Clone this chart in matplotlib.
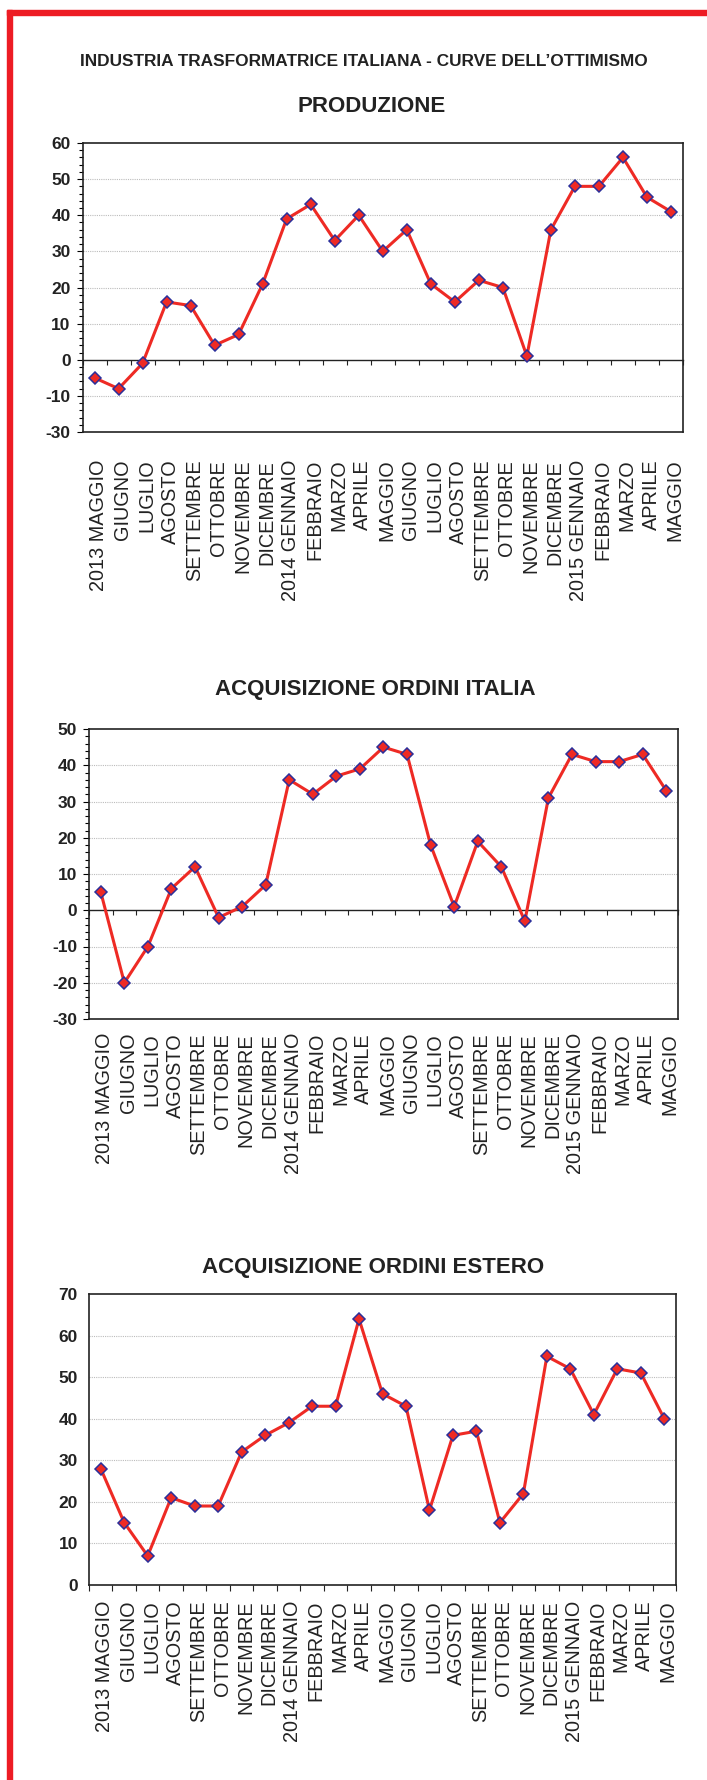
import numpy as np
import matplotlib
matplotlib.use("Agg")
import matplotlib.pyplot as plt
import matplotlib.transforms as mtransforms
from matplotlib.ticker import AutoMinorLocator, FixedLocator
from matplotlib.patches import Rectangle

plt.rcParams['font.family'] = ['Liberation Sans', 'DejaVu Sans']

# ---------------- data ----------------
mesi = ["2013 MAGGIO", "GIUGNO", "LUGLIO", "AGOSTO", "SETTEMBRE", "OTTOBRE",
        "NOVEMBRE", "DICEMBRE", "2014 GENNAIO", "FEBBRAIO", "MARZO", "APRILE",
        "MAGGIO", "GIUGNO", "LUGLIO", "AGOSTO", "SETTEMBRE", "OTTOBRE",
        "NOVEMBRE", "DICEMBRE", "2015 GENNAIO", "FEBBRAIO", "MARZO", "APRILE",
        "MAGGIO"]

produzione = [-5, -8, -1, 16, 15, 4, 7, 21, 39, 43, 33, 40, 30, 36, 21, 16,
              22, 20, 1, 36, 48, 48, 56, 45, 41]
ordini_italia = [5, -20, -10, 6, 12, -2, 1, 7, 36, 32, 37, 39, 45, 43, 18, 1,
                 19, 12, -3, 31, 43, 41, 41, 43, 33]
ordini_estero = [28, 15, 7, 21, 19, 19, 32, 36, 39, 43, 43, 64, 46, 43, 18, 36,
                 37, 15, 22, 55, 52, 41, 52, 51, 40]

titolo = "INDUSTRIA TRASFORMATRICE ITALIANA - CURVE DELL\u2019OTTIMISMO"
sottotitoli = ["PRODUZIONE", "ACQUISIZIONE ORDINI ITALIA", "ACQUISIZIONE ORDINI ESTERO"]

yticks1 = [-20, -10, 0, 10, 20, 30, 40, 50, 60]
ylabels1 = ["-30", "-10", "0", "10", "20", "30", "40", "50", "60"]
yticks2 = [-30, -20, -10, 0, 10, 20, 30, 40, 50]
ylabels2 = ["-30", "-20", "-10", "0", "10", "20", "30", "40", "50"]
yticks3 = [0, 10, 20, 30, 40, 50, 60, 70]
ylabels3 = ["0", "10", "20", "30", "40", "50", "60", "70"]

# ---------------- styles ----------------
W, H = 707, 1780
RED = "#ee2a24"
BORDER = "#ed1c24"
BLUE = "#2b2f9a"

fig = plt.figure(figsize=(W / 100, H / 100), dpi=100)
fig.patch.set_facecolor("white")

# red frame (top + left)
fig.patches.append(Rectangle((7 / W, 1 - 15 / H), 1 - 7 / W, 5 / H,
                             transform=fig.transFigure, color=BORDER, zorder=0))
fig.patches.append(Rectangle((7 / W, 0), 5 / W, 1 - 10 / H,
                             transform=fig.transFigure, color=BORDER, zorder=0))

label_shift = mtransforms.ScaledTranslation(4 / 100, 0, fig.dpi_scale_trans)


def add_ax(l, r, t, b):
    return fig.add_axes([l / W, 1 - b / H, (r - l) / W, (b - t) / H])


def draw(ax, vals, yticks, ylabels, minor, zero_ticks, xpad):
    x = np.arange(len(mesi))
    ax.set_xlim(-0.5, len(mesi) - 0.5)
    ax.set_ylim(yticks[0], yticks[-1])
    for yt in yticks[1:-1]:
        if yt != 0 or not zero_ticks:
            ax.axhline(yt, color="#bcbcbc", lw=0.8, ls=(0, (1, 1)), zorder=1)
    ax.plot(x, vals, color=RED, lw=2.2, marker="D", ms=6, mfc=RED,
            mec=BLUE, mew=1.1, zorder=4, clip_on=False)
    ax.set_yticks(yticks)
    ax.set_yticklabels(ylabels, fontsize=12.5, fontweight="bold", color="#222222")
    ax.set_xticks(x)
    ax.set_xticklabels(mesi, rotation=90, fontsize=14.3, color="#222222")
    for s in ax.spines.values():
        s.set_linewidth(1.2)
        s.set_color("#222222")
    if minor:
        ax.yaxis.set_minor_locator(AutoMinorLocator(5))
        ax.tick_params(axis="y", which="major", direction="out", length=4, width=0.8, pad=4.5)
        ax.tick_params(axis="y", which="minor", direction="out", length=3, width=0.8)
    else:
        ax.tick_params(axis="y", which="major", length=0, pad=8)
    bounds = np.arange(len(mesi) + 1) - 0.5
    if zero_ticks:
        ax.tick_params(axis="x", which="both", length=0, pad=xpad)
        sec = ax.secondary_xaxis(0, transform=ax.transData)
        sec.set_xticks(bounds)
        sec.tick_params(axis="x", direction="out", length=3.5, width=0.8,
                        labelbottom=False, color="#222222")
        sec.spines["bottom"].set_linewidth(1.0)
        sec.spines["bottom"].set_color("#222222")
    else:
        ax.xaxis.set_minor_locator(FixedLocator(bounds))
        ax.tick_params(axis="x", which="major", length=0, pad=xpad)
        ax.tick_params(axis="x", which="minor", direction="out", length=4, width=0.8,
                       color="#222222")
    # small horizontal nudge of month labels (after tick_params, which resets transforms)
    for tk in ax.xaxis.get_major_ticks():
        tk.label1.set_transform(tk.label1.get_transform() + label_shift)


ax1 = add_ax(82.5, 683, 143, 432)
draw(ax1, produzione, yticks1, ylabels1, True, True, 20)
ax2 = add_ax(89, 678, 729, 1019)
draw(ax2, ordini_italia, yticks2, ylabels2, True, True, 10)
ax3 = add_ax(89, 676, 1294, 1585)
draw(ax3, ordini_estero, yticks3, ylabels3, False, False, 11)

fig.text(364 / W, 1 - 61 / H, titolo, ha="center", va="center",
         fontsize=12.4, fontweight="bold", color="#222222")
for (cx, cy), t in zip([(372, 106), (375, 689), (373, 1268)], sottotitoli):
    fig.text(cx / W, 1 - cy / H, t, ha="center", va="center",
             fontsize=16, fontweight="bold", color="#222222")

fig.savefig("out.png", dpi=100)
